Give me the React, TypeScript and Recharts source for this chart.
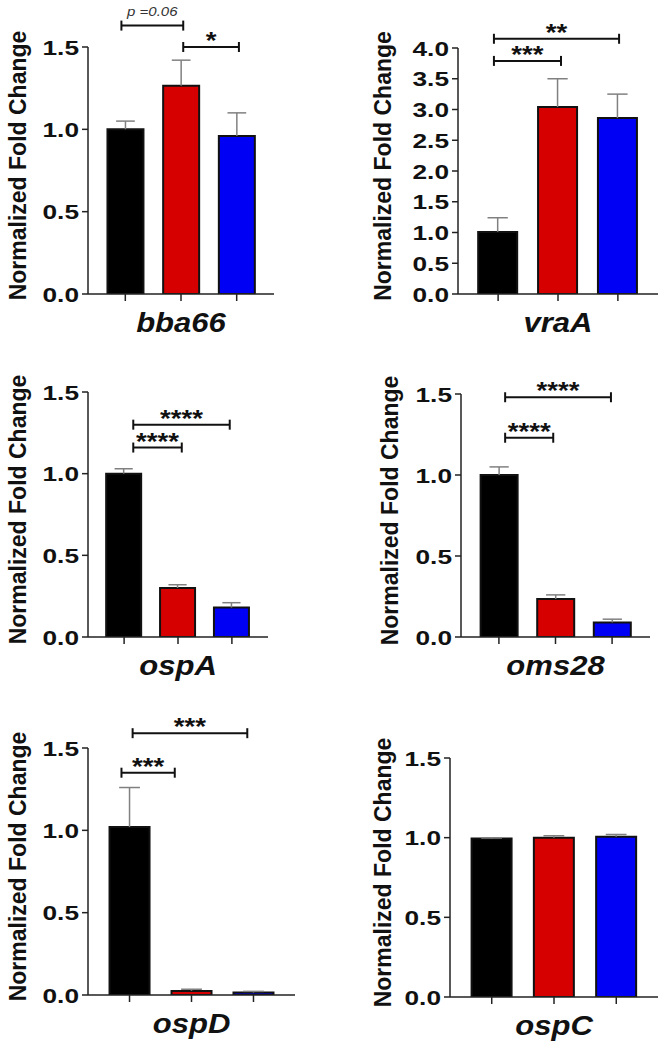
import React from 'react';
import { BarChart, Bar, Cell, XAxis, YAxis, ReferenceLine } from 'recharts';

// three strains, one bar each, same order in every panel
const positions = [1, 2, 3];
const barColors = ['#000000', '#d60000', '#0000f5'];

const bba66Mean = [1.0, 1.265, 0.96];
const bba66Err = [0.05, 0.155, 0.14];
const vraAMean = [1.01, 3.04, 2.86];
const vraAErr = [0.23, 0.46, 0.39];
const ospAMean = [1.0, 0.3, 0.18];
const ospAErr = [0.03, 0.02, 0.03];
const oms28Mean = [1.0, 0.235, 0.09];
const oms28Err = [0.05, 0.025, 0.02];
const ospDMean = [1.02, 0.025, 0.015];
const ospDErr = [0.24, 0.01, 0.007];
const ospCMean = [0.995, 1.0, 1.005];
const ospCErr = [0.003, 0.012, 0.015];

const ticksLow = [0, 0.5, 1.0, 1.5];
const ticksHigh = [0, 0.5, 1.0, 1.5, 2.0, 2.5, 3.0, 3.5, 4.0];

// significance brackets (x in bar positions, y in fold change)
const bba66Sig = [
  { from: 0.93, to: 2.04, y: 1.63, text: 'p =0.06' },
  { from: 2.04, to: 3.04, y: 1.5, text: '*' },
];
const vraASig = [
  { from: 0.93, to: 3.02, y: 4.15, text: '**' },
  { from: 0.93, to: 2.05, y: 3.79, text: '***' },
];
const ospASig = [
  { from: 1.17, to: 2.96, y: 1.3, text: '****' },
  { from: 1.17, to: 2.07, y: 1.16, text: '****' },
];
const oms28Sig = [
  { from: 1.11, to: 2.98, y: 1.48, text: '****' },
  { from: 1.11, to: 1.96, y: 1.23, text: '****' },
];
const ospDSig = [
  { from: 1.05, to: 2.9, y: 1.59, text: '***' },
  { from: 0.87, to: 1.73, y: 1.35, text: '***' },
];
const ospCSig: any[] = [];

const FONT = '"Liberation Sans", Arial, Helvetica, sans-serif';
const W = 333;
const X_AXIS_H = 45;

const YTick = (props: any) => {
  const { x, y, payload } = props;
  return (
    <g transform={`translate(${x},${y})`}>
      <text transform="scale(1.25,1)" textAnchor="end" dy="0.36em" fontFamily={FONT} fontWeight="bold" fontSize={21} fill="#111">
        {Number(payload.value).toFixed(1)}
      </text>
    </g>
  );
};

const Whisker = (props: any) => {
  const { x, y, width, height } = props;
  if (height == null || isNaN(height) || isNaN(y)) return null;
  const cx = x + width / 2;
  const cap = width * 0.26;
  return (
    <g stroke="#808080" strokeWidth={1.5}>
      <line x1={cx} y1={y + height} x2={cx} y2={y} />
      <line x1={cx - cap} y1={y} x2={cx + cap} y2={y} />
    </g>
  );
};

const Bracket = (props: any) => {
  const { x1, x2, y1, text } = props;
  const mid = (x1 + x2) / 2;
  const isP = text.startsWith('p');
  return (
    <g>
      <line x1={x1} y1={y1} x2={x2} y2={y1} stroke="#111" strokeWidth={2} />
      <line x1={x1} y1={y1 - 5} x2={x1} y2={y1 + 5} stroke="#111" strokeWidth={2} />
      <line x1={x2} y1={y1 - 5} x2={x2} y2={y1 + 5} stroke="#111" strokeWidth={2} />
      {isP ? (
        <g transform={`translate(${mid},${y1 - 10}) scale(1.25,1)`}>
          <text textAnchor="middle" fontFamily={FONT} fontStyle="italic" fontSize={12} fill="#333">{text}</text>
        </g>
      ) : (
        <g transform={`translate(${mid},${y1 + 2}) scale(1.15,1)`}>
          <text textAnchor="middle" fontFamily={FONT} fontWeight="bold" fontSize={24} fill="#111">{text}</text>
        </g>
      )}
    </g>
  );
};

const Panel = ({ gene, means, errs, sig, ticks, box }: any) => {
  const data = positions.map((x, i) => ({ x, mean: means[i], err: errs[i] }));
  const max = ticks[ticks.length - 1];
  const margin = {
    top: box.plotTop - box.top,
    right: box.left + W - box.plotRight,
    bottom: box.top + box.height - box.plotBottom - X_AXIS_H,
    left: 0,
  };
  const labelX = box.labelX - box.left;

  return (
    <div style={{ position: 'absolute', left: box.left, top: box.top }}>
      <BarChart width={W} height={box.height} data={data} margin={margin}>
        <XAxis
          type="number"
          dataKey="x"
          domain={[0.33, 3.67]}
          ticks={positions}
          allowDataOverflow
          height={X_AXIS_H}
          stroke="#222"
          strokeWidth={1.5}
          tickSize={7}
          tick={() => <g />}
          label={{
            content: (p: any) => {
              const vb = p.viewBox;
              return (
                <g transform={`translate(${vb.x + vb.width / 2},${vb.y + 38}) scale(1.15,1)`}>
                  <text textAnchor="middle" fontFamily={FONT} fontWeight="bold" fontStyle="italic" fontSize={27} fill="#111">
                    {gene}
                  </text>
                </g>
              );
            },
          }}
        />
        <YAxis
          type="number"
          domain={[0, max]}
          ticks={ticks}
          allowDataOverflow
          width={box.axisX - box.left}
          stroke="#222"
          strokeWidth={1.5}
          tickSize={6}
          tickMargin={3}
          tick={<YTick />}
          label={{
            content: (p: any) => {
              const vb = p.viewBox;
              return (
                <g transform={`translate(${vb.x + labelX},${vb.y + vb.height / 2 - 5}) rotate(-90)`}>
                  <text textAnchor="middle" dy="0.35em" fontFamily={FONT} fontWeight="bold" fontSize={23} fill="#111">
                    Normalized Fold Change
                  </text>
                </g>
              );
            },
          }}
        />
        <Bar dataKey="mean" stackId="s" barSize={box.barSize} stroke="#111" strokeWidth={2} isAnimationActive={false}>
          {data.map((d, i) => (
            <Cell key={`c-${i}`} fill={barColors[i]} />
          ))}
        </Bar>
        <Bar dataKey="err" stackId="s" barSize={box.barSize} shape={<Whisker />} isAnimationActive={false} />
        {sig.map((s: any, i: number) => (
          <ReferenceLine
            key={`sig-${i}`}
            segment={[{ x: s.from, y: s.y }, { x: s.to, y: s.y }]}
            ifOverflow="visible"
            shape={(lp: any) => <Bracket {...lp} text={s.text} />}
          />
        ))}
      </BarChart>
    </div>
  );
};

const boxes = {
  bba66: { left: 0, top: 0, height: 340, axisX: 88, plotRight: 274, plotTop: 47, plotBottom: 294, labelX: 18, barSize: 36 },
  vraA: { left: 333, top: 0, height: 340, axisX: 458, plotRight: 658, plotTop: 48, plotBottom: 294, labelX: 383, barSize: 39 },
  ospA: { left: 0, top: 340, height: 360, axisX: 88, plotRight: 268, plotTop: 392, plotBottom: 637, labelX: 18, barSize: 35 },
  oms28: { left: 333, top: 340, height: 360, axisX: 461, plotRight: 650, plotTop: 394, plotBottom: 637, labelX: 390, barSize: 37 },
  ospD: { left: 0, top: 700, height: 348, axisX: 88, plotRight: 295, plotTop: 748, plotBottom: 995, labelX: 18, barSize: 40 },
  ospC: { left: 333, top: 700, height: 348, axisX: 450, plotRight: 658, plotTop: 758, plotBottom: 997, labelX: 383, barSize: 40 },
};

export default function App() {
  return (
    <div style={{ position: 'absolute', left: 0, top: 0, width: 666, height: 1048, overflow: 'hidden', background: '#fff' }}>
      <Panel gene="bba66" means={bba66Mean} errs={bba66Err} sig={bba66Sig} ticks={ticksLow} box={boxes.bba66} />
      <Panel gene="vraA" means={vraAMean} errs={vraAErr} sig={vraASig} ticks={ticksHigh} box={boxes.vraA} />
      <Panel gene="ospA" means={ospAMean} errs={ospAErr} sig={ospASig} ticks={ticksLow} box={boxes.ospA} />
      <Panel gene="oms28" means={oms28Mean} errs={oms28Err} sig={oms28Sig} ticks={ticksLow} box={boxes.oms28} />
      <Panel gene="ospD" means={ospDMean} errs={ospDErr} sig={ospDSig} ticks={ticksLow} box={boxes.ospD} />
      <Panel gene="ospC" means={ospCMean} errs={ospCErr} sig={ospCSig} ticks={ticksLow} box={boxes.ospC} />
    </div>
  );
}
